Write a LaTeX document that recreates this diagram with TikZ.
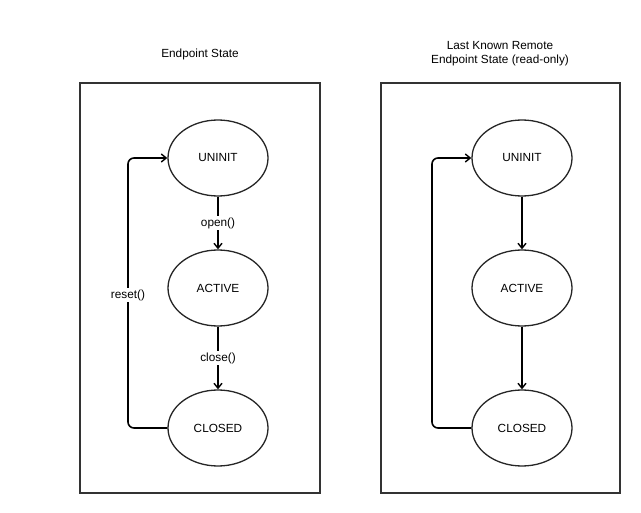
\documentclass[tikz,border=0pt]{standalone}
\usepackage{fontspec}
\setmainfont{Liberation Sans}
\usetikzlibrary{arrows.meta,shapes.geometric}
\begin{document}
\begin{tikzpicture}[x=1pt,y=-1pt,
  every node/.style={font=\fontsize{11.8}{14}\selectfont},
  frame/.style={draw=black!80,line width=1.2pt},
  state/.style={draw=black!85,line width=1.3pt,ellipse,minimum width=100pt,minimum height=76pt,inner sep=0pt},
  conn/.style={line width=1.6pt,-{Straight Barb[length=5pt,width=8pt,line width=1.4pt]}},
  lbl/.style={fill=white,inner sep=1.5pt}]
\useasboundingbox (0,0) rectangle (641,513);
\fill[white] (0,0) rectangle (641,513);
\draw[frame] (80,83) rectangle (320,493);
\draw[frame] (381,83) rectangle (620,493);
\node (t1) at (200,54) {Endpoint State};
\node[align=center] (t2) at (500,54) {Last Known Remote\\Endpoint State (read-only)};
% left
\node[state] (u1) at (218,158) {UNINIT};
\node[state] (a1) at (218,288) {ACTIVE};
\node[state] (c1) at (218,428) {CLOSED};
\draw[conn] (u1) -- node[lbl] {open()} (a1);
\draw[conn] (a1) -- node[lbl] {close()} (c1);
\coordinate (l1) at (128,428);
\coordinate (l2) at (128,158);
\draw[conn,rounded corners=6pt] (c1.west) -- (l1) -- (l2) -- (u1.west);
\node[lbl] (r1) at (128,295) {reset()};
% right
\node[state] (u2) at (522,158) {UNINIT};
\node[state] (a2) at (522,288) {ACTIVE};
\node[state] (c2) at (522,428) {CLOSED};
\draw[conn] (u2) -- (a2);
\draw[conn] (a2) -- (c2);
\coordinate (l3) at (432,428);
\coordinate (l4) at (432,158);
\draw[conn,rounded corners=6pt] (c2.west) -- (l3) -- (l4) -- (u2.west);
\end{tikzpicture}
\end{document}
